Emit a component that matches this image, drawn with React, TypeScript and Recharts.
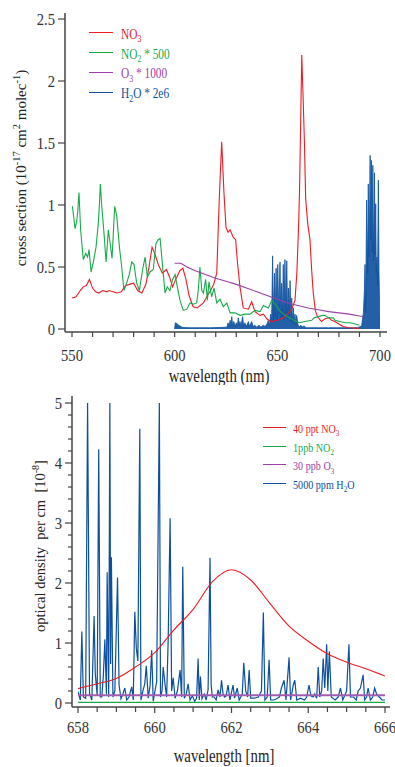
import { ComposedChart, LineChart, Line, Area, XAxis, YAxis, Legend } from "recharts";

const FONT = "'Liberation Serif', 'Times New Roman', serif";
const RED = "#ec1c24";
const GREEN = "#18a94b";
const PURPLE = "#9a3fa6";
const BLUE = "#0b4f9e";
const AXIS = "#444";

// ---- top panel: cross sections ----
const no3Wl = [550, 552, 554, 555.5, 557, 558.5, 560, 561.5, 563, 565, 567, 568, 570, 572, 574, 576, 578, 580, 582, 584, 586, 587.5, 589, 590.5, 592, 594, 596, 597.5, 599, 600.5, 602.5, 604, 605.5, 607, 609, 611, 612.5, 614, 616, 617.5, 619, 620.5, 621.7, 622.9, 624, 625, 626, 627, 628.5, 629.7, 630.5, 631.8, 633.4, 635.9, 637.5, 639.1, 641.6, 643.2, 645, 647, 650, 653, 655, 657, 658.6, 659.5, 660.3, 660.8, 661.3, 661.9, 662.5, 663.2, 663.8, 664.8, 665.9, 666.7, 667.5, 668.5, 669.5, 671.5, 673, 675, 676.5, 678, 680, 682, 685, 690];
const no3Val = [0.25, 0.26, 0.31, 0.34, 0.35, 0.4, 0.33, 0.3, 0.29, 0.31, 0.3, 0.31, 0.3, 0.29, 0.3, 0.35, 0.36, 0.37, 0.31, 0.29, 0.36, 0.5, 0.66, 0.6, 0.52, 0.45, 0.48, 0.42, 0.34, 0.4, 0.47, 0.49, 0.4, 0.27, 0.18, 0.17, 0.19, 0.21, 0.27, 0.31, 0.36, 0.45, 1.04, 1.51, 1.1, 0.82, 0.78, 0.8, 0.74, 0.72, 0.55, 0.34, 0.17, 0.16, 0.22, 0.14, 0.11, 0.12, 0.08, 0.06, 0.07, 0.09, 0.12, 0.16, 0.23, 0.45, 0.8, 1.1, 1.6, 2.21, 1.9, 1.5, 1.05, 0.85, 0.72, 0.48, 0.29, 0.15, 0.1, 0.06, 0.08, 0.09, 0.07, 0.06, 0.04, 0.02, 0.01, 0.005];

const no2Wl = [550.2, 551.5, 552.3, 552.8, 553.4, 554.2, 555.5, 556.7, 557.6, 558.3, 559.3, 560.4, 561.7, 562.8, 563.4, 563.8, 564.5, 565.6, 566.6, 567.7, 568.5, 569.5, 570.8, 571.8, 573.1, 574.2, 575.3, 576.6, 577.9, 579.1, 580.2, 581.5, 582.8, 584.4, 585.6, 586.7, 588, 589.6, 590.9, 592, 592.9, 594, 595.3, 596.4, 597.7, 599, 600.2, 601.3, 602.6, 604.2, 605.9, 607.5, 609, 610.7, 611.5, 612.3, 613.2, 614, 615.1, 615.9, 616.7, 618, 619.2, 620.5, 622.1, 623.7, 625.4, 627, 629.4, 631.8, 634.3, 636.7, 639.1, 641.6, 643.2, 645.6, 647.3, 649, 651, 653, 655, 657, 659, 661, 663.5, 666.7, 668, 670, 672, 673.2, 675, 677.3, 678.1, 680.5, 683, 685.4, 688, 690];
const no2Val = [0.99, 0.81, 0.87, 0.95, 1.1, 0.8, 0.56, 0.61, 0.58, 0.64, 0.46, 0.54, 0.66, 0.85, 1.02, 1.17, 0.99, 0.77, 0.54, 0.8, 0.7, 0.57, 0.99, 0.91, 0.66, 0.5, 0.31, 0.37, 0.44, 0.54, 0.52, 0.37, 0.31, 0.48, 0.58, 0.42, 0.46, 0.48, 0.69, 0.72, 0.73, 0.53, 0.29, 0.34, 0.31, 0.4, 0.44, 0.34, 0.23, 0.15, 0.16, 0.21, 0.2, 0.21, 0.31, 0.5, 0.31, 0.29, 0.4, 0.23, 0.38, 0.26, 0.33, 0.21, 0.24, 0.18, 0.21, 0.13, 0.13, 0.11, 0.12, 0.12, 0.15, 0.14, 0.19, 0.17, 0.23, 0.2, 0.15, 0.12, 0.1, 0.08, 0.06, 0.05, 0.06, 0.07, 0.09, 0.1, 0.11, 0.11, 0.09, 0.09, 0.07, 0.06, 0.05, 0.05, 0.04, 0.03];

const o3Wl = [600, 603, 606, 610, 615, 620, 625, 630, 635, 640, 645, 650, 655, 660, 665, 670, 675, 680, 685, 690, 692];
const o3Val = [0.53, 0.53, 0.5, 0.47, 0.44, 0.41, 0.385, 0.36, 0.33, 0.3, 0.27, 0.24, 0.21, 0.19, 0.17, 0.155, 0.14, 0.13, 0.12, 0.105, 0.1];

const h2oWl = [600, 600.3, 601, 602, 603, 604, 607, 612, 617, 622, 625.5, 626, 626.5, 627, 627.5, 627.8, 628.3, 628.8, 629.4, 630, 630.5, 631, 631.4, 631.8, 632.3, 633.1, 633.6, 634.2, 634.8, 635.4, 635.9, 636.5, 637.5, 638.2, 639, 640, 641, 642, 643.2, 644, 645, 645.6, 646.2, 646.8, 647.2, 647.7, 648.1, 648.6, 649, 649.4, 649.8, 650.2, 650.7, 651.3, 651.7, 652.1, 652.5, 652.9, 653.3, 653.7, 654.1, 654.6, 655, 655.4, 655.8, 656.2, 656.6, 657, 657.4, 657.8, 658.2, 658.6, 659, 659.4, 660, 660.5, 661.5, 662, 663, 664, 666, 670, 675, 680, 685, 689, 690.5, 691.1, 691.9, 692.4, 692.7, 693, 693.5, 694, 694.3, 694.7, 695.2, 695.5, 695.8, 696.1, 696.5, 696.8, 697.3, 697.6, 697.9, 698.2, 698.5, 698.8, 699.2, 699.5, 699.9, 700.2];
const h2oVal = [0, 0.05, 0.045, 0.03, 0.02, 0.012, 0.01, 0.01, 0.01, 0.012, 0.015, 0.05, 0.02, 0.07, 0.03, 0.1, 0.02, 0.06, 0.02, 0.05, 0.02, 0.09, 0.03, 0.06, 0.02, 0.1, 0.02, 0.05, 0.02, 0.04, 0.06, 0.02, 0.06, 0.02, 0.03, 0.015, 0.03, 0.015, 0.03, 0.02, 0.04, 0.07, 0.03, 0.12, 0.05, 0.59, 0.07, 0.45, 0.1, 0.49, 0.06, 0.52, 0.12, 0.54, 0.08, 0.37, 0.1, 0.52, 0.07, 0.56, 0.12, 0.55, 0.08, 0.33, 0.1, 0.39, 0.06, 0.25, 0.05, 0.17, 0.04, 0.12, 0.03, 0.11, 0.04, 0.015, 0.03, 0.015, 0.025, 0.01, 0.01, 0.01, 0.01, 0.01, 0.01, 0.01, 0.02, 0.03, 0.13, 0.31, 0.52, 0.13, 1.04, 0.45, 1.17, 0.58, 1.4, 0.72, 1.36, 0.62, 1.32, 0.55, 1.26, 0.6, 1.01, 0.45, 0.58, 0.35, 1.2, 0.46, 0.13, 0];

const topXTicks = [550, 560, 570, 580, 590, 600, 610, 620, 630, 640, 650, 660, 670, 680, 690, 700];
const topYTicks = [0, 0.5, 1, 1.5, 2, 2.5];

// ---- bottom panel: optical density ----
const odNo3Wl = [658, 658.5, 659, 659.5, 660, 660.5, 661, 661.5, 662, 662.5, 663, 663.5, 664, 664.5, 665, 665.5, 666];
const odNo3Val = [0.24, 0.32, 0.41, 0.6, 0.84, 1.22, 1.56, 2.02, 2.22, 2.05, 1.66, 1.28, 1.03, 0.82, 0.68, 0.57, 0.45];
const odNo2Wl = [658, 662, 666];
const odNo2Val = [0.01, 0.01, 0.01];
const odO3Wl = [658, 662, 666];
const odO3Val = [0.13, 0.13, 0.13];

const odH2oWl = [658, 658.06, 658.1, 658.14, 658.2, 658.25, 658.3, 658.36, 658.42, 658.45, 658.5, 658.54, 658.58, 658.62, 658.66, 658.7, 658.74, 658.76, 658.8, 658.83, 658.85, 658.87, 658.91, 658.96, 659.03, 659.07, 659.12, 659.17, 659.22, 659.27, 659.33, 659.4, 659.44, 659.48, 659.52, 659.56, 659.61, 659.64, 659.69, 659.74, 659.78, 659.83, 659.88, 659.92, 659.96, 660.02, 660.05, 660.12, 660.15, 660.19, 660.22, 660.27, 660.31, 660.35, 660.4, 660.44, 660.48, 660.53, 660.59, 660.66, 660.7, 660.73, 660.77, 660.82, 660.87, 660.92, 660.98, 661.04, 661.09, 661.13, 661.16, 661.19, 661.23, 661.29, 661.34, 661.39, 661.44, 661.47, 661.5, 661.55, 661.6, 661.65, 661.7, 661.74, 661.78, 661.82, 661.86, 661.91, 661.96, 662.04, 662.08, 662.15, 662.2, 662.28, 662.32, 662.37, 662.42, 662.46, 662.5, 662.6, 662.7, 662.78, 662.83, 662.87, 662.93, 662.98, 663.02, 663.1, 663.18, 663.25, 663.3, 663.37, 663.42, 663.5, 663.54, 663.61, 663.65, 663.7, 663.8, 663.9, 663.96, 664.02, 664.07, 664.13, 664.17, 664.22, 664.26, 664.3, 664.35, 664.39, 664.43, 664.48, 664.51, 664.55, 664.6, 664.7, 664.78, 664.84, 664.9, 665, 665.06, 665.1, 665.18, 665.25, 665.3, 665.36, 665.43, 665.47, 665.52, 665.56, 665.62, 665.68, 665.73, 665.78, 665.85, 665.92, 666];
const odH2oVal = [0.19, 0.05, 1.19, 0.1, 0.08, 5, 0.16, 0.05, 1.45, 0.49, 0.12, 4.23, 0.1, 0.1, 0.45, 1.06, 0.15, 2.18, 0.1, 5, 0.65, 2.43, 0.1, 0.2, 2.09, 0.3, 0.07, 0.15, 0.25, 0.05, 0.1, 0.27, 0.05, 1.52, 0.91, 0.7, 4.57, 0.05, 0.2, 0.32, 0.62, 0.08, 0.3, 0.88, 0.03, 0.25, 0.35, 5, 0.1, 0.2, 0.6, 0.3, 0.1, 1.05, 3.08, 0.2, 0.42, 0.08, 0.2, 0.55, 0.1, 2.27, 0.08, 0.15, 0.32, 0.05, 0.12, 0.03, 0.08, 0.74, 0.05, 0.44, 0.07, 0.15, 0.05, 0.22, 2.42, 0.3, 0.1, 0.1, 0.05, 0.22, 0.1, 0.38, 0.15, 0.1, 0.12, 0.3, 0.05, 0.3, 0.08, 0.25, 0.05, 0.15, 0.67, 0.2, 0.1, 0.55, 0.08, 0.08, 0.1, 0.2, 1.51, 0.05, 0.1, 0.72, 0.05, 0.05, 0.07, 0.1, 0.25, 0.38, 0.05, 0.76, 0.05, 0.3, 0.38, 0.05, 0.08, 0.05, 0.1, 0.3, 0.12, 0.1, 0.15, 0.08, 0.6, 0.1, 0.2, 0.74, 0.25, 0.98, 0.2, 0.86, 0.1, 0.05, 0.1, 0.25, 0.05, 0.2, 0.98, 0.1, 0.1, 0.05, 0.2, 0.25, 0.47, 0.05, 0.1, 0.25, 0.05, 0.1, 0.25, 0.15, 0.1, 0.05, 0.05];

const botXTicks = [658, 658.5, 659, 659.5, 660, 660.5, 661, 661.5, 662, 662.5, 663, 663.5, 664, 664.5, 665, 665.5, 666];
const botYTicks = [0, 0.2, 0.4, 0.6, 0.8, 1, 1.2, 1.4, 1.6, 1.8, 2, 2.2, 2.4, 2.6, 2.8, 3, 3.2, 3.4, 3.6, 3.8, 4, 4.2, 4.4, 4.6, 4.8, 5];

const topLegend = [
  { color: RED, pre: "NO", sub: "3", post: "" },
  { color: GREEN, pre: "NO", sub: "2", post: " * 500" },
  { color: PURPLE, pre: "O", sub: "3", post: " * 1000" },
  { color: BLUE, pre: "H", sub: "2", post: "O * 2e6" },
];
const botLegend = [
  { color: RED, pre: "40 ppt NO", sub: "3", post: "" },
  { color: GREEN, pre: "1ppb NO", sub: "2", post: "" },
  { color: PURPLE, pre: "30 ppb O", sub: "3", post: "" },
  { color: BLUE, pre: "5000 ppm H", sub: "2", post: "O" },
];

const pairs = (xs: number[], ys: number[]) => xs.map((x, i) => ({ x, y: ys[i] }));

const no3Top = pairs(no3Wl, no3Val);
const no2Top = pairs(no2Wl, no2Val);
const o3Top = pairs(o3Wl, o3Val);
const h2oTop = pairs(h2oWl, h2oVal);
const no3Bot = pairs(odNo3Wl, odNo3Val);
const no2Bot = pairs(odNo2Wl, odNo2Val);
const o3Bot = pairs(odO3Wl, odO3Val);
const h2oBot = pairs(odH2oWl, odH2oVal);

function LegendBox({ items, rowH, lineW, gap, fontSize }: any) {
  return (
    <div style={{ fontFamily: FONT }}>
      {items.map((it: any) => (
        <div key={it.pre + it.post} style={{ display: "flex", alignItems: "center", height: rowH }}>
          <div style={{ width: lineW, borderTop: `1.5px solid ${it.color}` }} />
          <span
            style={{
              marginLeft: gap,
              color: it.color,
              fontSize,
              whiteSpace: "pre",
              display: "inline-block",
              lineHeight: 1,
              transform: "scaleX(0.81)",
              transformOrigin: "left center",
              position: "relative",
              top: 2,
            }}
          >
            {it.pre}
            <span style={{ fontSize: "0.7em", position: "relative", top: "0.35em" }}>{it.sub}</span>
            {it.post}
          </span>
        </div>
      ))}
    </div>
  );
}

const topXTick = (p: any) => {
  const v = p.payload.value;
  return (
    <g>
      <line x1={p.x} x2={p.x} y1={p.y} y2={p.y + 5} stroke={AXIS} strokeWidth={1.2} />
      {v % 50 === 0 && (
        <text transform={`translate(${p.x},${p.y + 29}) scale(0.86,1)`} textAnchor="middle" fontSize={17} fontFamily={FONT} fill="#333">
          {v}
        </text>
      )}
    </g>
  );
};

const topYTick = (p: any) => {
  const v = p.payload.value;
  return (
    <g>
      <line x1={p.x - 7} x2={p.x} y1={p.y} y2={p.y} stroke={AXIS} strokeWidth={1.2} />
      <text transform={`translate(${p.x - 10},${p.y + 5.5}) scale(0.86,1)`} textAnchor="end" fontSize={17} fontFamily={FONT} fill="#333">
        {v}
      </text>
    </g>
  );
};

const botXTick = (p: any) => {
  const v = p.payload.value;
  const major = Number.isInteger(v) && v % 2 === 0;
  return (
    <g>
      <line x1={p.x} x2={p.x} y1={p.y} y2={p.y + (major ? 6 : 5)} stroke={AXIS} strokeWidth={1.2} />
      {major && (
        <text transform={`translate(${p.x},${p.y + 26}) scale(0.86,1)`} textAnchor="middle" fontSize={17} fontFamily={FONT} fill="#333">
          {v}
        </text>
      )}
    </g>
  );
};

const botYTick = (p: any) => {
  const v = p.payload.value;
  const major = Math.abs(v - Math.round(v)) < 1e-6;
  return (
    <g>
      <line x1={p.x - (major ? 7 : 4)} x2={p.x} y1={p.y} y2={p.y} stroke={AXIS} strokeWidth={1.2} />
      {major && (
        <text transform={`translate(${p.x - 10},${p.y + 5.5}) scale(0.86,1)`} textAnchor="end" fontSize={17} fontFamily={FONT} fill="#333">
          {Math.round(v)}
        </text>
      )}
    </g>
  );
};

const lineProps = { dot: false, activeDot: false, isAnimationActive: false, type: "linear" as const };

export default function App() {
  return (
    <div style={{ position: "absolute", left: 0, top: 0, width: 395, height: 767, background: "#fff" }}>
      <ComposedChart width={395} height={385} margin={{ top: 13, right: 8, bottom: 0, left: 0 }}>
        <XAxis
          dataKey="x"
          type="number"
          domain={[550, 700]}
          allowDataOverflow
          ticks={topXTicks}
          interval={0}
          padding={{ left: 7, right: 7 }}
          height={53}
          tickSize={0}
          tickMargin={0}
          tickLine={false}
          tick={topXTick}
          axisLine={{ stroke: AXIS, strokeWidth: 1.5 }}
          label={() => (
            <text transform="translate(219,382) scale(0.8,1)" textAnchor="middle" fontSize={18.5} fontFamily={FONT} fill="#222">
              wavelength (nm)
            </text>
          )}
        />
        <XAxis xAxisId="box" orientation="top" type="number" domain={[550, 700]} height={0} tick={false} tickLine={false} axisLine={{ stroke: "#888", strokeWidth: 1.5 }} />
        <YAxis
          type="number"
          domain={[0, 2.5]}
          allowDataOverflow
          ticks={topYTicks}
          interval={0}
          padding={{ top: 6, bottom: 3 }}
          width={65}
          tickSize={0}
          tickMargin={0}
          tickLine={false}
          tick={topYTick}
          axisLine={{ stroke: AXIS, strokeWidth: 1.5 }}
          label={() => (
            <text transform="translate(26,168) rotate(-90)" textAnchor="middle" fontSize={15} fontFamily={FONT} fill="#222">
              cross section (10
              <tspan dy={-6} fontSize={10.5}>-17</tspan>
              <tspan dy={6}> cm</tspan>
              <tspan dy={-6} fontSize={10.5}>2</tspan>
              <tspan dy={6}> molec</tspan>
              <tspan dy={-6} fontSize={10.5}>-1</tspan>
              <tspan dy={6}>)</tspan>
            </text>
          )}
        />
        <YAxis yAxisId="box" orientation="right" type="number" domain={[0, 2.5]} width={0} tick={false} tickLine={false} axisLine={{ stroke: "#888", strokeWidth: 1.5 }} />
        <Legend
          layout="vertical"
          align="center"
          verticalAlign="middle"
          wrapperStyle={{ position: "absolute", left: 89, top: 23, width: 160, height: 80 }}
          content={() => <LegendBox items={topLegend} rowH={19.8} lineW={24} gap={8} fontSize={14} />}
        />
        <Line {...lineProps} name="NO3" data={no3Top} dataKey="y" stroke={RED} strokeWidth={1.1} />
        <Line {...lineProps} name="NO2 * 500" data={no2Top} dataKey="y" stroke={GREEN} strokeWidth={1.1} />
        <Line {...lineProps} name="O3 * 1000" data={o3Top} dataKey="y" stroke={PURPLE} strokeWidth={1.1} />
        <Area {...lineProps} name="H2O * 2e6" data={h2oTop} dataKey="y" stroke={BLUE} strokeWidth={0.8} fill={BLUE} fillOpacity={0.9} baseValue={0} />
      </ComposedChart>

      <LineChart width={395} height={382} margin={{ top: 11, right: 5, bottom: 0, left: 0 }}>
        <XAxis
          dataKey="x"
          type="number"
          domain={[658, 666]}
          allowDataOverflow
          ticks={botXTicks}
          interval={0}
          padding={{ left: 6, right: 5 }}
          height={60}
          tickSize={0}
          tickMargin={0}
          tickLine={false}
          tick={botXTick}
          axisLine={{ stroke: AXIS, strokeWidth: 1.5 }}
          label={() => (
            <text transform="translate(224,377) scale(0.8,1)" textAnchor="middle" fontSize={18.5} fontFamily={FONT} fill="#222">
              wavelength [nm]
            </text>
          )}
        />
        <XAxis xAxisId="box" orientation="top" type="number" domain={[658, 666]} height={0} tick={false} tickLine={false} axisLine={{ stroke: "#333", strokeWidth: 1.5 }} />
        <YAxis
          type="number"
          domain={[0, 5]}
          allowDataOverflow
          ticks={botYTicks}
          interval={0}
          padding={{ top: 7, bottom: 4 }}
          width={72}
          tickSize={0}
          tickMargin={0}
          tickLine={false}
          tick={botYTick}
          axisLine={{ stroke: AXIS, strokeWidth: 1.5 }}
          label={() => (
            <text transform="translate(45,161) rotate(-90)" textAnchor="middle" fontSize={14.5} fontFamily={FONT} fill="#222" style={{ whiteSpace: "pre" }}>
              {"optical density  per cm  [10"}
              <tspan dy={-6} fontSize={10}>-8</tspan>
              <tspan dy={6}>]</tspan>
            </text>
          )}
        />
        <YAxis yAxisId="box" orientation="right" type="number" domain={[0, 5]} width={0} tick={false} tickLine={false} axisLine={{ stroke: "#999", strokeWidth: 1.5 }} />
        <Legend
          layout="vertical"
          align="center"
          verticalAlign="middle"
          wrapperStyle={{ position: "absolute", left: 263, top: 33, width: 130, height: 76 }}
          content={() => <LegendBox items={botLegend} rowH={18.7} lineW={23} gap={7} fontSize={12.5} />}
        />
        <Line {...lineProps} name="5000 ppm H2O" data={h2oBot} dataKey="y" stroke={BLUE} strokeWidth={1.2} />
        <Line {...lineProps} name="40 ppt NO3" data={no3Bot} dataKey="y" stroke={RED} strokeWidth={1.1} type="monotone" />
        <Line {...lineProps} name="1ppb NO2" data={no2Bot} dataKey="y" stroke={GREEN} strokeWidth={1.5} />
        <Line {...lineProps} name="30 ppb O3" data={o3Bot} dataKey="y" stroke="#a35db0" strokeWidth={2} />
      </LineChart>
    </div>
  );
}
